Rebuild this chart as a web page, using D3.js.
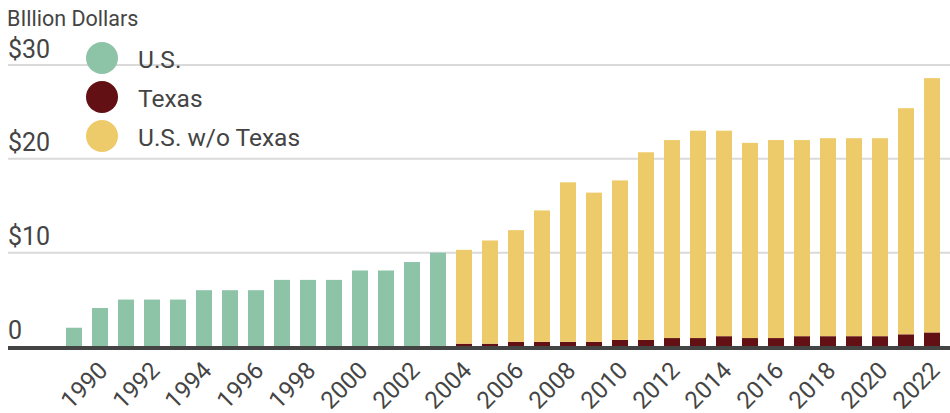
<!DOCTYPE html>
<html>
<head>
<meta charset="utf-8">
<script src="https://cdn.jsdelivr.net/npm/d3@7"></script>
<style>
  body { margin: 0; background: #fff; }
  svg { display: block; font-family: Roboto, "Noto Sans", sans-serif; }
</style>
</head>
<body>
<svg id="chart"></svg>
<script>
// years shown on the x axis (one bar each)
const years = d3.range(1989, 2023);
// total U.S. (only reported before 2004)
const usYears = d3.range(1989, 2004);
const usValues = [2.0, 4.1, 5.0, 5.0, 5.0, 6.0, 6.0, 6.0, 7.1, 7.1, 7.1, 8.1, 8.1, 9.0, 10.0];
// 2004 onwards: Texas + rest of U.S. stacked
const splitYears = d3.range(2004, 2023);
const texasValues = [0.3, 0.3, 0.5, 0.5, 0.5, 0.5, 0.7, 0.7, 0.9, 0.9, 1.1, 0.9, 0.9, 1.1, 1.1, 1.1, 1.1, 1.3, 1.5];
const usWoTexasValues = [10.0, 11.0, 11.9, 14.0, 17.0, 15.9, 17.0, 20.0, 21.1, 22.1, 21.9, 20.8, 21.1, 20.9, 21.1, 21.1, 21.1, 24.1, 27.1];
const tickYears = d3.range(1990, 2023, 2);
const yTicks = [0, 10, 20, 30];
const yTickLabels = ["0", "$10", "$20", "$30"];
const legendItems = ["U.S.", "Texas", "U.S. w/o Texas"];

const width = 950, height = 413;
const color = d3.scaleOrdinal()
  .domain(legendItems)
  .range(["#8dc4a8", "#621014", "#eecb6a"]);
const textColor = "#444";

const svg = d3.select("#chart")
  .attr("width", width)
  .attr("height", height);

const x = d3.scaleBand()
  .domain(years)
  .range([60.8, 945.2])
  .paddingInner(0.385)
  .paddingOuter(0.2);

const y = d3.scaleLinear()
  .domain([0, 30])
  .range([346.5, 65]);

// gridlines + y labels
const grid = svg.append("g");
grid.selectAll("line")
  .data(yTicks.filter(d => d > 0))
  .join("line")
  .attr("x1", 8).attr("x2", width)
  .attr("y1", d => y(d)).attr("y2", d => y(d))
  .attr("stroke", "#dadada")
  .attr("stroke-width", 2);

grid.selectAll("text")
  .data(yTicks)
  .join("text")
  .attr("x", 8)
  .attr("y", d => y(d) - 7.5)
  .attr("fill", textColor)
  .style("font-size", "25px")
  .text((d, i) => yTickLabels[i]);

svg.append("text")
  .attr("x", 7)
  .attr("y", 26)
  .attr("fill", textColor)
  .style("font-size", "21.5px")
  .text("BIllion Dollars");

// U.S. bars
svg.append("g")
  .selectAll("rect")
  .data(usYears.map((yr, i) => ({ year: yr, value: usValues[i] })))
  .join("rect")
  .attr("x", d => x(d.year))
  .attr("width", x.bandwidth())
  .attr("y", d => y(d.value))
  .attr("height", d => y(0) - y(d.value))
  .attr("fill", color("U.S."));

// stacked Texas / U.S. w/o Texas
const splitData = splitYears.map((yr, i) => ({
  year: yr,
  "Texas": texasValues[i],
  "U.S. w/o Texas": usWoTexasValues[i]
}));
const stack = d3.stack().keys(["Texas", "U.S. w/o Texas"]);

svg.append("g")
  .selectAll("g")
  .data(stack(splitData))
  .join("g")
  .attr("fill", d => color(d.key))
  .selectAll("rect")
  .data(d => d)
  .join("rect")
  .attr("x", d => x(d.data.year))
  .attr("width", x.bandwidth())
  .attr("y", d => y(d[1]))
  .attr("height", d => y(d[0]) - y(d[1]));

// baseline
svg.append("line")
  .attr("x1", 8).attr("x2", width)
  .attr("y1", y(0) + 1.5).attr("y2", y(0) + 1.5)
  .attr("stroke", "#444")
  .attr("stroke-width", 4);

// x tick labels, rotated 45 degrees
svg.append("g")
  .selectAll("g")
  .data(tickYears)
  .join("g")
  .attr("transform", d => `translate(${x(d) + x.bandwidth() / 2 + 9},372) rotate(-45)`)
  .append("text")
  .attr("text-anchor", "end")
  .attr("fill", textColor)
  .style("font-size", "24px")
  .text(d => d);

// legend
const legend = svg.append("g")
  .selectAll("g")
  .data(legendItems)
  .join("g")
  .attr("transform", (d, i) => `translate(102, ${58 + i * 39})`);

legend.append("circle")
  .attr("r", 16)
  .attr("fill", d => color(d));

legend.append("text")
  .attr("x", 36)
  .attr("y", 10)
  .attr("fill", textColor)
  .style("font-size", "24.5px")
  .text(d => d);
</script>
</body>
</html>
